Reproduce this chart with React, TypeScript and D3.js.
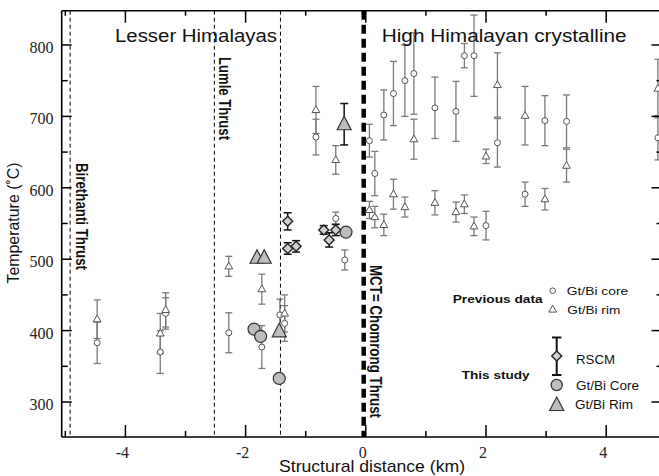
import React from 'react';
import * as d3 from 'd3';

const W = 659;
const H = 476;

// Previous data: Gt/Bi core (small circles)
const prevCoreX = [-4.47, -3.42, -3.33, -2.28, -1.73, -1.43, -1.35, -0.83, -0.5, -0.35, 0.06, 0.15, 0.3, 0.46, 0.65, 0.8, 1.15, 1.5, 1.64, 1.8, 2.0, 2.19, 2.65, 2.98, 3.34, 4.86];
const prevCoreT = [383, 370, 424, 397, 377, 422, 410, 671, 557, 499, 666, 620, 702, 732, 750, 760, 712, 707, 785, 785, 547, 663, 591, 694, 693, 670];
const prevCoreErr = [29, 30, 22, 28, 30, 22, 25, 25, 9, 14, 23, 31, 35, 45, 50, 57, 43, 42, 17, 57, 20, 34, 17, 35, 37, 31];

// Previous data: Gt/Bi rim (small triangles)
const prevRimX = [-4.47, -3.42, -3.33, -2.28, -1.73, -1.35, -0.83, -0.5, 0.06, 0.15, 0.3, 0.46, 0.65, 0.8, 1.15, 1.5, 1.64, 1.8, 2.0, 2.19, 2.65, 2.98, 3.34, 4.86];
const prevRimT = [416, 396, 429, 490, 458, 424, 709, 639, 569, 559, 548, 591, 573, 668, 579, 566, 577, 546, 644, 744, 701, 584, 631, 739];
const prevRimErr = [27, 28, 24, 14, 21, 26, 33, 20, 12, 15, 15, 21, 14, 28, 17, 14, 13, 13, 10, 45, 41, 15, 23, 41];

// This study: RSCM (diamonds)
const rscmX = [-1.3, -1.3, -1.16, -0.7, -0.61, -0.5];
const rscmT = [553, 515, 518, 541, 527, 541];
const rscmErr = [12, 8, 8, 6, 10, 8];

// This study: Gt/Bi Core (big circles)
const coreX = [-1.86, -1.75, -1.44, -0.33];
const coreT = [402, 392, 333, 538];

// This study: Gt/Bi Rim (big triangles)
const rimX = [-1.81, -1.69, -1.44, -0.36];
const rimT = [502, 502, 399, 689];
const rimErr = [0, 0, 0, 29];

// Thrust lines
const thinThrustX = [-4.92, -2.52, -1.42];
const mctX = -0.035;

const xMajor = [-4, -2, 0, 2, 4];
const xMinor = [-5, -3, -1, 1, 3];
const yMajor = [300, 400, 500, 600, 700, 800];
const yMinor = [350, 450, 550, 650, 750];

const SANS = '"Liberation Sans", Arial, Helvetica, sans-serif';
const SERIF = '"Liberation Serif", "Times New Roman", serif';

const x = d3.scaleLinear().domain([-5.06, 4.92]).range([61.7, 661.5]);
const y = d3.scaleLinear().domain([251, 848]).range([437, 10.7]);

const triSmall = 'M0,-4.2L3.9,2.6L-3.9,2.6Z';
const triBig = 'M0,-8L7,5.5L-7,5.5Z';
const diamond = 'M0,-5L5,0L0,5L-5,0Z';

function ErrBar({ cx, t, e, color, width, cap }: any) {
  if (!e) return null;
  const y1 = y(t + e);
  const y2 = y(t - e);
  return (
    <g stroke={color} strokeWidth={width} fill="none">
      <line x1={cx} x2={cx} y1={y1} y2={y2} />
      <line x1={cx - cap} x2={cx + cap} y1={y1} y2={y1} />
      <line x1={cx - cap} x2={cx + cap} y1={y2} y2={y2} />
    </g>
  );
}

export default function App() {
  const x0 = x.range()[0];
  const x1 = x.range()[1];
  const yTop = y.range()[1];
  const yBot = y.range()[0];
  const barGray = '#7a7a7a';
  const markStroke = '#555';
  const bigFill = '#bdbdbd';

  return (
    <svg
      width={W}
      height={H}
      style={{ position: 'fixed', left: 0, top: 0, background: '#fff' }}
      xmlns="http://www.w3.org/2000/svg"
    >
      <rect x={0} y={0} width={W} height={H} fill="#fff" />

      {/* thin dashed thrust lines */}
      {thinThrustX.map((v, i) => (
        <line key={'th' + i} x1={x(v)} x2={x(v)} y1={yTop} y2={yBot} stroke="#000" strokeWidth={1} strokeDasharray="4,3" />
      ))}
      {/* MCT thick dashed */}
      <line x1={x(mctX)} x2={x(mctX)} y1={yTop} y2={yBot} stroke="#000" strokeWidth={4.5} strokeDasharray="9,5" />

      {/* Previous data error bars */}
      {prevCoreX.map((v, i) => (
        <ErrBar key={'ce' + i} cx={x(v)} t={prevCoreT[i]} e={prevCoreErr[i]} color={barGray} width={1.3} cap={3.5} />
      ))}
      {prevRimX.map((v, i) => (
        <ErrBar key={'re' + i} cx={x(v)} t={prevRimT[i]} e={prevRimErr[i]} color={barGray} width={1.3} cap={3.5} />
      ))}
      {/* Previous data markers */}
      {prevCoreX.map((v, i) => (
        <circle key={'c' + i} cx={x(v)} cy={y(prevCoreT[i])} r={3} fill="#fff" stroke={markStroke} strokeWidth={1} />
      ))}
      {prevRimX.map((v, i) => (
        <path key={'r' + i} d={triSmall} transform={`translate(${x(v)},${y(prevRimT[i])})`} fill="#fff" stroke={markStroke} strokeWidth={1} />
      ))}

      {/* This study */}
      {rimX.map((v, i) => (
        <ErrBar key={'be' + i} cx={x(v)} t={rimT[i]} e={rimErr[i]} color="#111" width={1.5} cap={4} />
      ))}
      {rscmX.map((v, i) => (
        <ErrBar key={'de' + i} cx={x(v)} t={rscmT[i]} e={rscmErr[i]} color="#111" width={1.5} cap={4} />
      ))}
      {coreX.map((v, i) => (
        <circle key={'bc' + i} cx={x(v)} cy={y(coreT[i])} r={6} fill={bigFill} stroke="#333" strokeWidth={1.2} />
      ))}
      {rimX.map((v, i) => (
        <path key={'bt' + i} d={triBig} transform={`translate(${x(v)},${y(rimT[i])})`} fill={bigFill} stroke="#333" strokeWidth={1.2} />
      ))}
      {rscmX.map((v, i) => (
        <path key={'d' + i} d={diamond} transform={`translate(${x(v)},${y(rscmT[i])})`} fill="#d0d0d0" stroke="#222" strokeWidth={1.4} />
      ))}

      {/* Axes frame */}
      <line x1={x0} x2={x0} y1={yTop} y2={yBot} stroke="#000" strokeWidth={1.6} />
      <line x1={x1} x2={x1} y1={yTop} y2={yBot} stroke="#000" strokeWidth={1.6} />
      <line x1={x0} x2={x1} y1={yTop} y2={yTop} stroke="#000" strokeWidth={1.6} />
      <line x1={x0} x2={x1} y1={yBot} y2={yBot} stroke="#000" strokeWidth={1.6} />

      {/* x ticks */}
      {xMajor.map((v) => (
        <g key={'xm' + v} stroke="#000" strokeWidth={1.5}>
          <line x1={x(v)} x2={x(v)} y1={yBot} y2={yBot - 12} />
          <line x1={x(v)} x2={x(v)} y1={yTop} y2={yTop + 12} />
        </g>
      ))}
      {xMinor.map((v) => (
        <g key={'xn' + v} stroke="#000" strokeWidth={1.5}>
          <line x1={x(v)} x2={x(v)} y1={yBot} y2={yBot - 6} />
          <line x1={x(v)} x2={x(v)} y1={yTop} y2={yTop + 5} />
        </g>
      ))}
      {xMajor.map((v) => (
        <text key={'xl' + v} x={x(v) - 3} y={458} textAnchor="middle" fontFamily={SERIF} fontSize={16} fill="#222">
          {v < 0 ? '-' + Math.abs(v) : String(v)}
        </text>
      ))}

      {/* y ticks */}
      {yMajor.map((v) => (
        <g key={'ym' + v} stroke="#000" strokeWidth={1.5}>
          <line x1={x0} x2={x0 + 10} y1={y(v)} y2={y(v)} />
          <line x1={x1} x2={x1 - 10} y1={y(v)} y2={y(v)} />
        </g>
      ))}
      {yMinor.map((v) => (
        <g key={'yn' + v} stroke="#000" strokeWidth={1.5}>
          <line x1={x0} x2={x0 + 6} y1={y(v)} y2={y(v)} />
          <line x1={x1} x2={x1 - 5} y1={y(v)} y2={y(v)} />
        </g>
      ))}
      {yMajor.map((v) => (
        <text key={'yl' + v} x={53.5} y={y(v) + 8} textAnchor="end" fontFamily={SERIF} fontSize={16} fill="#222">
          {v}
        </text>
      ))}

      {/* Axis titles */}
      <text x={279} y={472} fontFamily={SANS} fontSize={17} textLength={186} lengthAdjust="spacingAndGlyphs" fill="#111">
        Structural distance (km)
      </text>
      <text transform="translate(19,223) rotate(-90)" textAnchor="middle" fontFamily={SANS} fontSize={16.5} textLength={121} lengthAdjust="spacingAndGlyphs" fill="#111">
        Temperature (˚C)
      </text>

      {/* Region titles */}
      <text x={115} y={42} fontFamily={SANS} fontSize={17.5} textLength={162} lengthAdjust="spacingAndGlyphs" fill="#111">
        Lesser Himalayas
      </text>
      <text x={381.7} y={41.7} fontFamily={SANS} fontSize={17.5} textLength={245} lengthAdjust="spacingAndGlyphs" fill="#111">
        High Himalayan crystalline
      </text>

      {/* Thrust labels */}
      <text transform="translate(76,163) rotate(90)" fontFamily={SANS} fontWeight="bold" fontSize={16} textLength={107} lengthAdjust="spacingAndGlyphs" fill="#111">
        Birethanti Thrust
      </text>
      <text transform="translate(218.5,57) rotate(90)" fontFamily={SANS} fontWeight="bold" fontSize={16} textLength={83} lengthAdjust="spacingAndGlyphs" fill="#111">
        Lumle Thrust
      </text>
      <text transform="translate(370,265) rotate(90)" fontFamily={SANS} fontWeight="bold" fontSize={16} textLength={153} lengthAdjust="spacingAndGlyphs" fill="#111">
        MCT= Chomrong Thrust
      </text>

      {/* Legend: previous data */}
      <text x={542.7} y={303} textAnchor="end" fontFamily={SANS} fontWeight="bold" fontSize={11.5} textLength={90} lengthAdjust="spacingAndGlyphs" fill="#111">
        Previous data
      </text>
      <circle cx={552.7} cy={290.7} r={2.8} fill="#fff" stroke={markStroke} strokeWidth={1} />
      <text x={566.7} y={295} fontFamily={SANS} fontSize={11.5} textLength={61.6} lengthAdjust="spacingAndGlyphs" fill="#111">
        Gt/Bi core
      </text>
      <path d={triSmall} transform="translate(552.7,309.5)" fill="#fff" stroke={markStroke} strokeWidth={1} />
      <text x={567.3} y={313.5} fontFamily={SANS} fontSize={11.5} textLength={53} lengthAdjust="spacingAndGlyphs" fill="#111">
        Gt/Bi rim
      </text>

      {/* Legend: this study */}
      <text x={461.7} y={379} fontFamily={SANS} fontWeight="bold" fontSize={11.5} textLength={68} lengthAdjust="spacingAndGlyphs" fill="#111">
        This study
      </text>
      <g stroke="#111" strokeWidth={2} fill="none">
        <line x1={556.7} x2={556.7} y1={337.5} y2={375} />
        <line x1={552} x2={561.4} y1={337.5} y2={337.5} />
        <line x1={552} x2={561.4} y1={375} y2={375} />
      </g>
      <path d={diamond} transform="translate(556.7,356)" fill="#d0d0d0" stroke="#222" strokeWidth={1.4} />
      <text x={576} y={364} fontFamily={SANS} fontSize={13} textLength={39} lengthAdjust="spacingAndGlyphs" fill="#111">
        RSCM
      </text>
      <circle cx={556.7} cy={385} r={5.6} fill={bigFill} stroke="#333" strokeWidth={1.2} />
      <text x={576} y={389.5} fontFamily={SANS} fontSize={12.5} textLength={63} lengthAdjust="spacingAndGlyphs" fill="#111">
        Gt/Bi Core
      </text>
      <path d={triBig} transform="translate(556.7,405)" fill={bigFill} stroke="#333" strokeWidth={1.2} />
      <text x={575} y={408.5} fontFamily={SANS} fontSize={12.5} textLength={58} lengthAdjust="spacingAndGlyphs" fill="#111">
        Gt/Bi Rim
      </text>
    </svg>
  );
}
